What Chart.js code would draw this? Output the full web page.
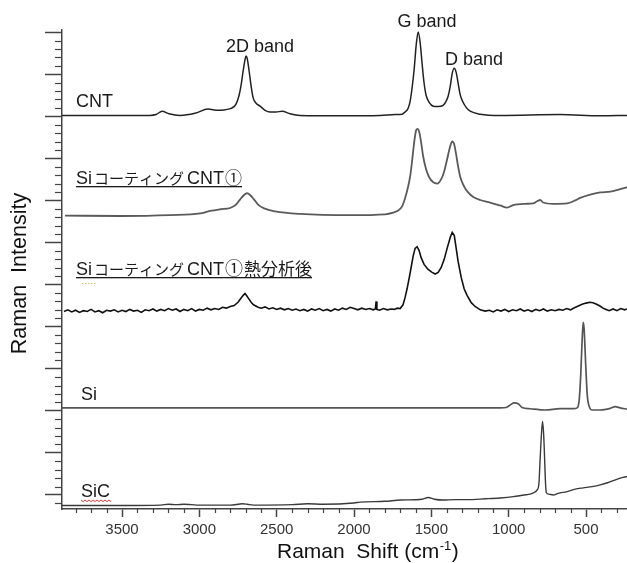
<!DOCTYPE html>
<html>
<head>
<meta charset="utf-8">
<script src="https://cdn.jsdelivr.net/npm/chart.js@4"></script>
<style>
html,body{margin:0;padding:0;background:#fff;}
canvas{display:block;}
</style>
</head>
<body>
<canvas id="c" width="627" height="563"></canvas>
<script>
// ---- data (Raman shift in cm-1, intensity in offset arbitrary units) ----
const xTickValues = [3500, 3000, 2500, 2000, 1500, 1000, 500];
const seriesNames = ["CNT", "Siコーティング CNT①", "Siコーティング CNT①熱分析後", "Si", "SiC"];
const bandLabels = ["2D band", "G band", "D band"];

const cntSpectrum = [
  [3888,9.02],[3319,9.02],[3280,9.04],[3241,9.12],[3196,9.06],[3125,9.02],[3028,9.07],[2944,9.17],
  [2879,9.14],[2840,9.15],[2814,9.17],[2788,9.20],[2763,9.29],[2743,9.50],[2730,9.74],[2717,10.07],
  [2704,10.36],[2698,10.43],[2691,10.38],[2678,10.07],[2665,9.71],[2653,9.45],[2633,9.31],[2607,9.24],
  [2575,9.14],[2543,9.10],[2504,9.10],[2465,9.12],[2413,9.06],[2349,9.02],[2090,9.01],[1831,9.02],
  [1734,9.04],[1689,9.05],[1670,9.10],[1650,9.19],[1637,9.36],[1624,9.69],[1611,10.12],[1598,10.69],
  [1585,11.00],[1572,10.74],[1560,10.26],[1547,9.79],[1534,9.50],[1514,9.33],[1488,9.24],[1456,9.23],
  [1424,9.26],[1404,9.36],[1391,9.48],[1378,9.71],[1365,10.02],[1352,10.14],[1340,10.05],[1327,9.79],
  [1314,9.52],[1301,9.38],[1275,9.21],[1249,9.12],[1184,9.05],[1055,9.02],[667,9.04],[408,9.01],[234,9.02]
];

const siCoatSpectrum = [
  [3869,6.64],[3513,6.63],[3189,6.65],[2995,6.69],[2931,6.75],[2866,6.79],[2801,6.82],[2763,6.90],
  [2737,7.02],[2711,7.13],[2691,7.17],[2672,7.13],[2646,7.02],[2620,6.90],[2581,6.81],[2510,6.74],
  [2349,6.68],[2025,6.65],[1799,6.67],[1747,6.71],[1715,6.76],[1689,6.86],[1670,7.05],[1650,7.33],
  [1637,7.57],[1624,7.95],[1611,8.38],[1598,8.67],[1589,8.70],[1579,8.64],[1566,8.38],[1553,8.05],
  [1534,7.74],[1514,7.55],[1488,7.43],[1462,7.40],[1437,7.50],[1417,7.69],[1398,7.98],[1378,8.29],
  [1365,8.40],[1352,8.33],[1340,8.10],[1327,7.81],[1314,7.57],[1288,7.33],[1262,7.19],[1229,7.08],
  [1184,7.01],[1120,6.95],[1055,6.88],[1010,6.83],[971,6.89],[893,6.92],[842,6.93],[816,6.98],
  [796,7.01],[777,6.95],[712,6.92],[622,6.93],[570,7.00],[538,7.06],[473,7.14],[408,7.19],
  [343,7.21],[279,7.27],[234,7.31]
];

const siCoatAnnealedSpectrum = [
  [3875,4.36],[3850,4.40],[3825,4.35],[3800,4.39],[3775,4.34],[3750,4.38],[3725,4.36],[3700,4.41],
  [3675,4.35],[3650,4.38],[3625,4.33],[3600,4.39],[3575,4.37],[3550,4.40],[3525,4.35],[3500,4.39],
  [3475,4.36],[3450,4.41],[3425,4.37],[3400,4.39],[3375,4.34],[3350,4.40],[3325,4.38],[3300,4.42],
  [3275,4.37],[3250,4.41],[3225,4.38],[3200,4.43],[3175,4.39],[3150,4.42],[3125,4.36],[3100,4.41],
  [3075,4.38],[3050,4.43],[3025,4.37],[3000,4.41],[2975,4.39],[2950,4.44],[2925,4.40],[2900,4.43],
  [2875,4.41],[2850,4.46],[2825,4.44],[2800,4.48],[2775,4.50],[2750,4.58],[2730,4.68],[2715,4.75],
  [2705,4.79],[2695,4.74],[2680,4.66],[2665,4.58],[2650,4.52],[2635,4.49],[2620,4.46],[2600,4.44],
  [2575,4.47],[2550,4.42],[2525,4.45],[2500,4.41],[2475,4.44],[2450,4.40],[2425,4.43],[2400,4.39],
  [2375,4.42],[2350,4.38],[2325,4.41],[2300,4.37],[2275,4.42],[2250,4.39],[2225,4.43],[2200,4.38],
  [2175,4.41],[2150,4.37],[2125,4.42],[2100,4.39],[2075,4.44],[2050,4.41],[2025,4.46],[2000,4.43],
  [1975,4.40],[1950,4.44],[1925,4.41],[1900,4.43],[1875,4.40],[1862,4.42],[1857,4.60],[1852,4.41],
  [1835,4.39],[1810,4.43],[1785,4.40],[1760,4.42],[1740,4.41],[1720,4.44],[1702,4.43],[1683,4.52],
  [1670,4.69],[1657,4.90],[1644,5.14],[1631,5.40],[1618,5.67],[1605,5.86],[1592,5.90],[1579,5.81],
  [1566,5.64],[1547,5.48],[1521,5.36],[1495,5.29],[1475,5.25],[1456,5.29],[1437,5.40],[1417,5.60],
  [1398,5.86],[1378,6.12],[1365,6.24],[1352,6.17],[1340,5.88],[1327,5.55],[1307,5.17],[1288,4.90],
  [1268,4.74],[1242,4.57],[1217,4.48],[1184,4.40],[1152,4.37],[1125,4.39],[1100,4.35],[1075,4.40],
  [1050,4.37],[1025,4.41],[1000,4.36],[975,4.40],[950,4.38],[925,4.42],[900,4.37],[875,4.40],
  [850,4.36],[825,4.41],[800,4.38],[775,4.42],[750,4.37],[725,4.40],[700,4.38],[675,4.41],
  [650,4.39],[625,4.43],[600,4.40],[575,4.45],[550,4.49],[525,4.53],[500,4.56],[475,4.58],
  [455,4.57],[435,4.54],[410,4.49],[390,4.44],[370,4.41],[350,4.38],[325,4.42],[300,4.38],
  [275,4.43],[250,4.40],[235,4.42]
];

const siSpectrum = [
  [3888,2.07],[1055,2.07],[1016,2.08],[990,2.14],[964,2.19],[939,2.17],[913,2.08],[861,2.05],
  [764,2.02],[667,2.05],[582,2.05],[557,2.07],[544,2.26],[534,2.86],[525,3.69],[518,4.10],
  [512,3.93],[502,3.10],[492,2.38],[479,2.10],[460,2.02],[408,2.02],[343,2.06],[311,2.10],
  [279,2.07],[234,2.04]
];

const sicSpectrum = [
  [3888,-0.25],[3500,-0.25],[3250,-0.24],[3200,-0.22],[3150,-0.23],[3100,-0.22],[3050,-0.23],[3000,-0.24],
  [2800,-0.24],[2720,-0.21],[2690,-0.22],[2650,-0.24],[2400,-0.23],[2300,-0.21],[2200,-0.22],[2000,-0.19],
  [1960,-0.17],[1800,-0.15],[1700,-0.12],[1560,-0.10],[1520,-0.06],[1480,-0.10],[1424,-0.12],[1350,-0.11],
  [1270,-0.11],[1150,-0.09],[1055,-0.07],[970,-0.04],[900,0.00],[861,0.02],[830,0.07],[816,0.12],
  [805,0.25],[796,0.90],[788,1.45],[781,1.75],[774,1.45],[768,0.90],[762,0.30],[757,0.06],
  [740,0.02],[712,0.00],[680,0.04],[622,0.08],[570,0.14],[518,0.17],[460,0.20],[408,0.24],
  [360,0.29],[324,0.34],[280,0.40],[234,0.44]
];

const toXY = arr => arr.map(p => ({x: p[0], y: p[1]}));

const LATIN = '"Liberation Sans", Arial, sans-serif';
const CJK = '"Noto Sans CJK JP", sans-serif';

function drawSegments(ctx, x, y, segs) {
  let cx = x;
  for (const s of segs) {
    ctx.font = s.font;
    ctx.fillText(s.t, cx, y);
    cx += ctx.measureText(s.t).width + (s.gap || 0);
  }
  return cx;
}

const decor = {
  id: 'decor',
  afterDraw(chart) {
    const ctx = chart.ctx;
    const xs = chart.scales.x, ys = chart.scales.y;
    ctx.save();
    // minor ticks
    ctx.strokeStyle = '#444';
    ctx.lineWidth = 1.2;
    for (let k = -1; k <= 55; k++) {
      if (k % 5 === 0) continue;
      const v = k * 0.2;
      if (v < ys.min || v > ys.max) continue;
      const py = Math.round(ys.getPixelForValue(v)) + 0.5;
      ctx.beginPath(); ctx.moveTo(ys.right - 7, py); ctx.lineTo(ys.right, py); ctx.stroke();
    }
    for (let v = 300; v <= 3800; v += 100) {
      if (v % 500 === 0) continue;
      const px = Math.round(xs.getPixelForValue(v)) + 0.5;
      ctx.beginPath(); ctx.moveTo(px, xs.top); ctx.lineTo(px, xs.top + 4); ctx.stroke();
    }

    ctx.fillStyle = '#1a1a1a';
    ctx.textBaseline = 'alphabetic';
    ctx.textAlign = 'left';

    // band annotations
    ctx.font = '18px ' + LATIN;
    ctx.textAlign = 'center';
    ctx.fillText(bandLabels[0], 260, 52);
    ctx.fillText(bandLabels[1], 427, 27);
    ctx.fillText(bandLabels[2], 474, 65);
    ctx.textAlign = 'left';

    // series labels
    ctx.font = '18px ' + LATIN;
    ctx.fillText(seriesNames[0], 76, 107);

    const segs2 = [
      {t: 'Si', font: '18px ' + LATIN, gap: 2},
      {t: 'コーティング', font: '15px ' + CJK, gap: 3},
      {t: 'CNT', font: '18px ' + LATIN, gap: 1},
      {t: '①', font: '17px ' + CJK}
    ];
    let end = drawSegments(ctx, 76, 184, segs2);
    ctx.fillRect(76, 186, end - 76, 1.3);

    const segs3 = [
      {t: 'Si', font: '18px ' + LATIN, gap: 2},
      {t: 'コーティング', font: '15px ' + CJK, gap: 3},
      {t: 'CNT', font: '18px ' + LATIN, gap: 1},
      {t: '①', font: '18px ' + CJK, gap: 1},
      {t: '熱分析後', font: '17px ' + CJK}
    ];
    end = drawSegments(ctx, 76, 275, segs3);
    ctx.fillRect(76, 277, end - 76, 1.3);
    // faint dotted mark under "Si"
    ctx.fillStyle = '#c9c27a';
    for (let dx = 82; dx < 96; dx += 3) ctx.fillRect(dx, 283, 1.5, 1);
    ctx.fillStyle = '#1a1a1a';

    ctx.font = '18px ' + LATIN;
    ctx.fillText(seriesNames[3], 81, 400);
    ctx.fillText(seriesNames[4], 81, 497);
    // red wavy underline under SiC
    ctx.strokeStyle = '#e23b3b';
    ctx.lineWidth = 1;
    ctx.beginPath();
    for (let px = 81, i = 0; px <= 112; px += 2, i++) {
      const py = 500 + (i % 2 === 0 ? 0 : 1.6);
      if (i === 0) ctx.moveTo(px, py); else ctx.lineTo(px, py);
    }
    ctx.stroke();

    // axis titles
    ctx.fillStyle = '#111';
    ctx.font = '21px ' + LATIN;
    const main = 'Raman  Shift (cm';
    let tx = 277;
    ctx.fillText(main, tx, 558);
    tx += ctx.measureText(main).width;
    ctx.font = '13px ' + LATIN;
    ctx.fillText('-1', tx + 0.5, 550);
    tx += ctx.measureText('-1').width + 1;
    ctx.font = '21px ' + LATIN;
    ctx.fillText(')', tx, 558);

    ctx.save();
    ctx.translate(26, 273.5);
    ctx.rotate(-Math.PI / 2);
    ctx.textAlign = 'center';
    ctx.font = '21.5px ' + LATIN;
    ctx.fillText('Raman  Intensity', 0, 0);
    ctx.restore();

    ctx.restore();
  }
};

const mkSet = (data, color, width, mono) => ({
  data: toXY(data),
  borderColor: color,
  borderWidth: width,
  pointRadius: 0,
  fill: false,
  tension: mono ? 0.4 : 0,
  cubicInterpolationMode: mono ? 'monotone' : 'default'
});

new Chart(document.getElementById('c'), {
  type: 'line',
  data: {
    datasets: [
      mkSet(cntSpectrum, '#222', 1.5, true),
      mkSet(siCoatSpectrum, '#5a5a5a', 1.8, true),
      mkSet(siCoatAnnealedSpectrum, '#111', 1.6, false),
      mkSet(siSpectrum, '#555', 1.7, true),
      mkSet(sicSpectrum, '#3a3a3a', 1.4, true)
    ]
  },
  options: {
    responsive: false,
    animation: false,
    devicePixelRatio: 1,
    layout: {padding: {top: 30, right: 0, left: 0, bottom: 0}},
    plugins: {legend: {display: false}, tooltip: {enabled: false}},
    scales: {
      x: {
        type: 'linear',
        reverse: true,
        min: 235,
        max: 3888,
        afterFit: s => { s.height = 54; },
        afterBuildTicks: s => { s.ticks = xTickValues.map(v => ({value: v})); },
        ticks: {
          includeBounds: false,
          autoSkip: false,
          maxRotation: 0,
          padding: 4,
          color: '#333',
          font: {family: LATIN, size: 15},
          callback: v => String(v)
        },
        grid: {drawOnChartArea: false, drawTicks: true, tickLength: 8, tickColor: '#444', tickWidth: 1.5},
        border: {display: true, color: '#444', width: 1.5}
      },
      y: {
        type: 'linear',
        min: -0.333,
        max: 11.05,
        afterFit: s => { s.width = 62; },
        ticks: {stepSize: 1, includeBounds: false, display: false},
        grid: {drawOnChartArea: false, drawTicks: true, tickLength: 17, tickColor: '#444', tickWidth: 1.5},
        border: {display: true, color: '#444', width: 1.5}
      }
    }
  },
  plugins: [decor]
});
</script>
</body>
</html>
